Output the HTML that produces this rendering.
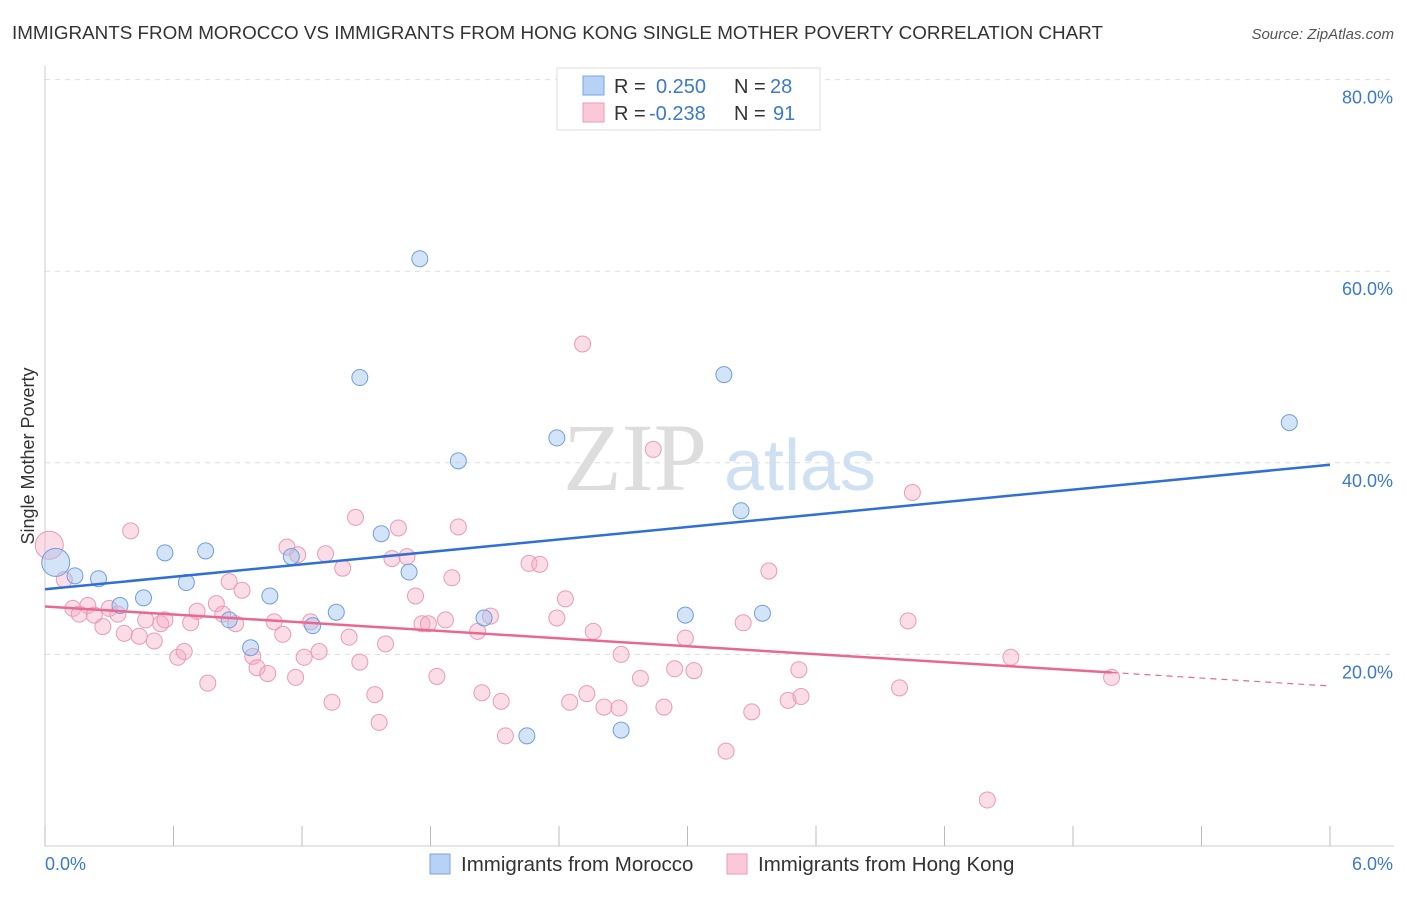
<!DOCTYPE html>
<html><head><meta charset="utf-8"><style>
body{margin:0;background:#fff;font-family:"Liberation Sans",sans-serif;}
svg text{font-family:"Liberation Sans",sans-serif;}
</style></head><body>
<svg id="chart" width="1406" height="892" xmlns="http://www.w3.org/2000/svg">
<text x="12" y="39" font-size="18.6" fill="#333" textLength="1091" lengthAdjust="spacingAndGlyphs">IMMIGRANTS FROM MOROCCO VS IMMIGRANTS FROM HONG KONG SINGLE MOTHER POVERTY CORRELATION CHART</text>
<text x="1394" y="39" font-size="15" fill="#555" font-style="italic" text-anchor="end">Source: ZipAtlas.com</text>
<g>
<text x="635" y="490" font-size="96" fill="#ddd" text-anchor="middle" font-family="Liberation Serif" style="font-family:'Liberation Serif',serif">ZIP</text>
<text x="800" y="490" font-size="72" fill="#cfe0f3" text-anchor="middle">atlas</text>
</g>
<g id="grid"></g>
<g id="axes"></g>
<g id="points"></g>
<g id="trends"></g>
<g>
<rect x="557" y="68" width="263" height="62" fill="#fff" stroke="#ddd"/>
<rect x="583" y="76" width="21" height="19" fill="#b8d2f5" stroke="#7aa6e3"/>
<text x="614" y="93" font-size="20" fill="#333">R =</text>
<text x="656" y="93" font-size="20" fill="#3b78d0">0.250</text>
<text x="734" y="93" font-size="20" fill="#333">N =</text>
<text x="770" y="93" font-size="20" fill="#3b78d0">28</text>
<rect x="583" y="103" width="21" height="19" fill="#fac8d6" stroke="#ee9ab4"/>
<text x="614" y="120" font-size="20" fill="#333">R =</text>
<text x="649" y="120" font-size="20" fill="#3b78d0">-0.238</text>
<text x="734" y="120" font-size="20" fill="#333">N =</text>
<text x="773" y="120" font-size="20" fill="#3b78d0">91</text>
</g>
<g>
<rect x="430" y="854" width="20" height="20" fill="#b8d2f5" stroke="#7aa6e3"/>
<text x="461" y="871" font-size="20.5" fill="#333">Immigrants from Morocco</text>
<rect x="727" y="854" width="20" height="20" fill="#fac8d6" stroke="#ee9ab4"/>
<text x="758" y="871" font-size="20.5" fill="#333">Immigrants from Hong Kong</text>
</g>
<text transform="translate(34,456) rotate(-90)" font-size="18" fill="#333" text-anchor="middle">Single Mother Poverty</text>
</svg>
<script>
const yTicks=[20,40,60,80];
const yTickLabels=["20.0%","40.0%","60.0%","80.0%"];
const xTickLabels=["0.0%","6.0%"];
const moroccoX=[0.05,0.14,0.25,0.35,0.46,0.56,0.66,0.75,0.86,0.96,1.05,1.15,1.25,1.36,1.47,1.57,1.70,1.75,1.93,2.05,2.25,2.39,2.69,2.99,3.17,3.25,3.35,5.81];
const moroccoY=[29.6,28.2,27.9,25.1,25.9,30.6,27.5,30.8,23.6,20.7,26.1,30.2,23.0,24.4,48.9,32.6,28.6,61.3,40.2,23.8,11.5,42.6,12.1,24.1,49.2,35.0,24.3,44.2];
const hkX=[0.02,0.09,0.13,0.16,0.20,0.23,0.27,0.30,0.34,0.37,0.40,0.44,0.47,0.51,0.54,0.56,0.62,0.65,0.68,0.71,0.76,0.80,0.83,0.86,0.89,0.92,0.97,0.99,1.04,1.07,1.11,1.13,1.17,1.18,1.21,1.24,1.28,1.31,1.34,1.39,1.42,1.45,1.47,1.54,1.56,1.59,1.62,1.65,1.69,1.73,1.76,1.79,1.83,1.87,1.90,1.93,2.02,2.04,2.08,2.13,2.15,2.26,2.31,2.39,2.43,2.45,2.51,2.53,2.56,2.61,2.68,2.69,2.78,2.84,2.89,2.94,2.99,3.03,3.18,3.26,3.30,3.38,3.47,3.52,3.53,3.99,4.03,4.05,4.40,4.51,4.98];
const hkY=[31.4,27.8,24.8,24.2,25.1,24.1,22.9,24.8,24.2,22.2,32.9,21.9,23.6,21.4,23.2,23.6,19.7,20.3,23.3,24.5,17.0,25.3,24.2,27.6,23.2,26.7,19.8,18.6,18.0,23.4,22.1,31.2,17.6,30.4,19.7,23.4,20.3,30.5,15.0,29.0,21.8,34.3,19.2,15.8,12.9,21.1,30.0,33.2,30.2,26.1,23.2,23.2,17.7,23.6,28.0,33.3,22.4,16.0,24.0,15.1,11.5,29.5,29.4,23.8,25.8,15.0,52.4,15.9,22.4,14.5,14.4,20.0,17.5,41.4,14.5,18.5,21.7,18.3,9.9,23.3,14.0,28.7,15.2,18.4,15.6,16.5,23.5,36.9,4.8,19.7,17.6];
const moroccoTrend=[26.8,39.8];
const hkTrend=[25.0,16.7];
const hkSolidEnd=4.98;
const NS="http://www.w3.org/2000/svg";
const X0=45,X1=1330,Y0=846,Yper=9.58;
const xs=v=>X0+(X1-X0)*v/6;
const ys=v=>Y0-v*Yper;
function mk(t,a,p){const e=document.createElementNS(NS,t);for(const k in a)e.setAttribute(k,a[k]);p.appendChild(e);return e;}
const grid=document.getElementById('grid'),axes=document.getElementById('axes'),pts=document.getElementById('points'),tr=document.getElementById('trends');
yTicks.forEach((t,i)=>{
 const l=mk('line',{x1:45,x2:1394,y1:ys(t),y2:ys(t),stroke:'#ddd','stroke-dasharray':'5,5'},grid);
 
 
 const tx=mk('text',{x:1393,y:ys(t)+24,'font-size':18,fill:'#3b78d0','text-anchor':'end'},axes);
 tx.textContent=yTickLabels[i];
 
 
});
const ax=mk('line',{x1:45,x2:45,y1:66,y2:846,stroke:'#ccc'},axes);


const bx=mk('line',{x1:45,x2:1394,y1:846,y2:846,stroke:'#ccc'},axes);


for(let i=0;i<=10;i++){
 const t=mk('line',{x1:xs(i*0.6),x2:xs(i*0.6),y1:826,y2:846,stroke:'#bbb'},axes);
 
 
}
const xl0=mk('text',{x:45,y:870,'font-size':18,fill:'#3b78d0'},axes);xl0.textContent=xTickLabels[0];


const xl1=mk('text',{x:1393,y:870,'font-size':18,fill:'#3b78d0','text-anchor':'end'},axes);xl1.textContent=xTickLabels[1];


hkX.forEach((x,i)=>{
 const c=mk('circle',{cx:xs(x),cy:ys(hkY[i]),r:i===0?14:8,fill:'rgba(245,170,195,0.4)',stroke:'#eb9ab5','stroke-width':1},pts);
 
 
});
moroccoX.forEach((x,i)=>{
 const c=mk('circle',{cx:xs(x),cy:ys(moroccoY[i]),r:i===0?14:8,fill:'rgba(160,195,240,0.45)',stroke:'#6e9fe0','stroke-width':1},pts);
 
 
});
const bl=mk('line',{x1:xs(0),y1:ys(moroccoTrend[0]),x2:xs(6),y2:ys(moroccoTrend[1]),stroke:'#2f6fd6','stroke-width':2.5},tr);


const hm=v=>hkTrend[0]+(hkTrend[1]-hkTrend[0])*v/6;
const pl=mk('line',{x1:xs(0),y1:ys(hkTrend[0]),x2:xs(hkSolidEnd),y2:ys(hm(hkSolidEnd)),stroke:'#e8688f','stroke-width':2.5},tr);


const pd=mk('line',{x1:xs(hkSolidEnd),y1:ys(hm(hkSolidEnd)),x2:xs(6),y2:ys(hkTrend[1]),stroke:'#e8688f','stroke-width':1.2,'stroke-dasharray':'6,5'},tr);


</script>
</body></html>
